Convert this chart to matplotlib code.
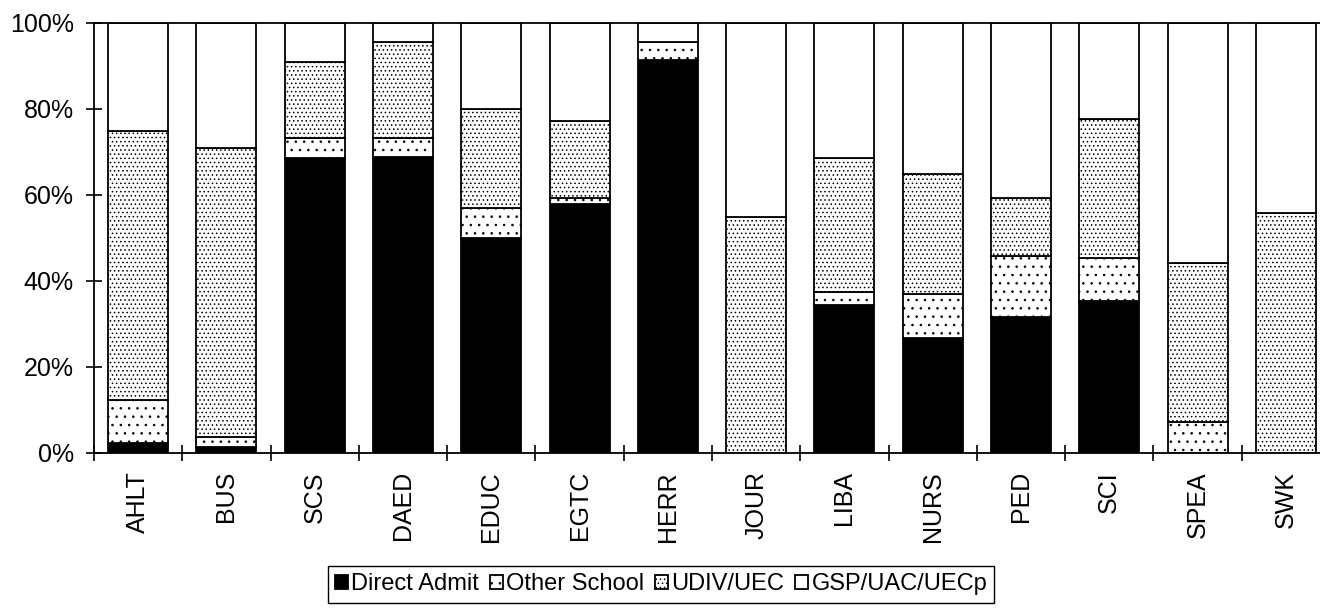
import matplotlib
matplotlib.use('Agg')
import matplotlib.pyplot as plt
import numpy as np

params = {
    'font.family': ['Liberation Sans', 'DejaVu Sans'],
    'font.size': 18,
    'hatch.linewidth': 0.6,
}
plt.rcParams.update(params)

# data (percent of each school)
schools = ['AHLT', 'BUS', 'SCS', 'DAED', 'EDUC', 'EGTC', 'HERR',
           'JOUR', 'LIBA', 'NURS', 'PED', 'SCI', 'SPEA', 'SWK']
direct_admit = [2.4, 1.5, 68.7, 68.8, 49.9, 57.9, 91.5, 0.0, 34.4, 26.7, 31.7, 35.3, 0.0, 0.0]
other_school = [9.9, 2.3, 4.5, 4.4, 7.1, 1.5, 4.0, 0.0, 3.0, 10.3, 14.0, 10.0, 7.3, 0.0]
udiv_uec = [62.7, 67.1, 17.7, 22.3, 22.9, 17.8, 0.0, 54.8, 31.1, 27.9, 13.7, 32.4, 37.0, 55.7]
gsp_uac = [25.0, 29.1, 9.1, 4.5, 20.1, 22.8, 4.5, 45.2, 31.5, 35.1, 40.6, 22.3, 55.7, 44.3]

fig = plt.figure(figsize=(13.2, 6.12), dpi=100)
ax = fig.add_axes([94/1320, 159/612, 1236/1320, 430/612])

x = np.arange(len(schools))
w = 0.68
lw = 1.3

b1 = ax.bar(x, direct_admit, w, color='black', edgecolor='black', linewidth=lw, label='Direct Admit')
bottom = np.array(direct_admit)
b2 = ax.bar(x, other_school, w, bottom=bottom, color='white', edgecolor='black',
            hatch='..', linewidth=lw, label='Other School')
bottom = bottom + np.array(other_school)
b3 = ax.bar(x, udiv_uec, w, bottom=bottom, color='white', edgecolor='black',
            hatch='....', linewidth=lw, label='UDIV/UEC')
bottom = bottom + np.array(udiv_uec)
b4 = ax.bar(x, gsp_uac, w, bottom=bottom, color='white', edgecolor='black',
            linewidth=lw, label='GSP/UAC/UECp')

ax.set_xlim(-0.5, len(schools) - 0.5)
ax.set_ylim(0, 100)
ax.set_yticks([0, 20, 40, 60, 80, 100])
ax.set_yticklabels(['0%', '20%', '40%', '60%', '80%', '100%'])

ax.set_xticks(np.arange(-0.5, len(schools), 1.0))
ax.set_xticklabels([])
ax.set_xticks(x, minor=True)
ax.set_xticklabels(schools, minor=True, rotation=90)
ax.tick_params(axis='x', which='minor', length=0, pad=13)
ax.tick_params(axis='x', which='major', direction='inout', length=11, width=1.2)
ax.tick_params(axis='y', direction='inout', length=11, width=1.2, pad=9)

for s in ['left', 'bottom', 'top']:
    ax.spines[s].set_linewidth(1.3)
ax.spines['right'].set_visible(False)

fig.legend(handles=[b1, b2, b3, b4], loc='center', bbox_to_anchor=(661/1320, 0.045),
           ncol=4, handlelength=0.55, handleheight=0.55, handletextpad=0.15,
           columnspacing=0.45, borderpad=0.3, fancybox=False, edgecolor='black',
           framealpha=1, fontsize=17)

fig.savefig('out.png', dpi=100)
